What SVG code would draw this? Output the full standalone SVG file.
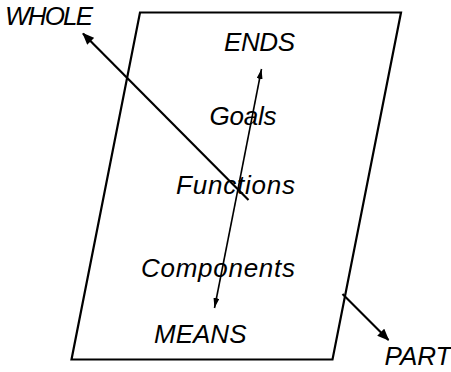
<svg xmlns="http://www.w3.org/2000/svg" width="451" height="372" viewBox="0 0 451 372">
<style>
text{font-family:"Liberation Sans",Arial,sans-serif;font-style:italic;font-size:26px;fill:#000}
.thick{stroke:#000;stroke-width:2.2;fill:none}
.thin{stroke:#000;stroke-width:1.6;fill:none}
</style>
<defs>
<marker id="big" viewBox="0 0 12 10" refX="11" refY="5" markerWidth="12" markerHeight="10" markerUnits="userSpaceOnUse" orient="auto">
<path d="M0,0 L12,5 L0,10 Z" fill="#000"/>
</marker>
<marker id="small" viewBox="0 0 10 6" refX="10" refY="3" markerWidth="10" markerHeight="6" markerUnits="userSpaceOnUse" orient="auto">
<path d="M0,0 L10,3 L0,6 Z" fill="#000"/>
</marker>
</defs>
<g id="frame"><path class="thick" d="M140,12.5 L401,12.5 L332.5,359.5 L71.5,359.5 Z"/></g>
<g id="connectors">
<line class="thick" x1="248.5" y1="200" x2="83" y2="33.5" marker-end="url(#big)"/>
<line class="thin" x1="238" y1="189" x2="261.5" y2="69" marker-end="url(#small)"/>
<line class="thin" x1="238" y1="189" x2="214.5" y2="308" marker-end="url(#small)"/>
<line class="thick" x1="342.5" y1="294" x2="388.5" y2="340" marker-end="url(#big)"/>
</g>
<g id="whole"><text x="5" y="25" textLength="88">WHOLE</text></g>
<g id="ends"><text x="224" y="51" textLength="71">ENDS</text></g>
<g id="goals"><text x="209.5" y="125" textLength="67">Goals</text></g>
<g id="functions"><text x="176" y="194.3" textLength="119">Functions</text></g>
<g id="components"><text x="141" y="276.7" textLength="154">Components</text></g>
<g id="means"><text x="154" y="343.3" textLength="92.5">MEANS</text></g>
<g id="part"><text x="384.5" y="364.5">PART</text></g>
</svg>
